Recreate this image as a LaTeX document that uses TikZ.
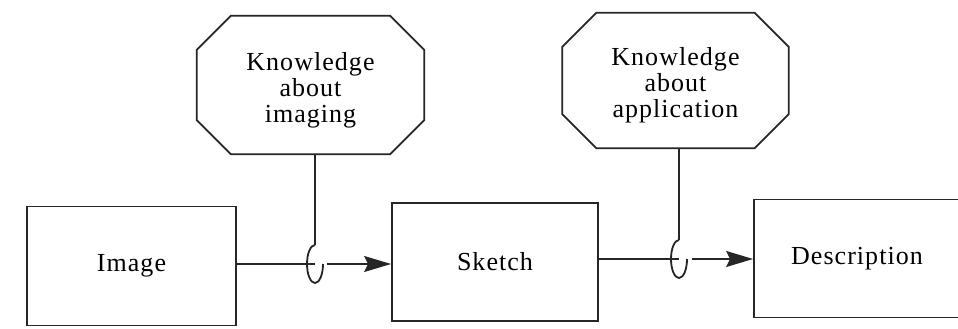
\documentclass[tikz,border=0pt]{standalone}
\usepackage{fontspec}
\setmainfont{Liberation Serif}[LetterSpace=4]
\usetikzlibrary{arrows.meta}
\newcommand{\octaround}[2]{%
  \draw[ln] ([xshift=#2]#1.north west) -- ([xshift=-#2]#1.north east)
    -- ([yshift=-#2]#1.north east) -- ([yshift=#2]#1.south east)
    -- ([xshift=-#2]#1.south east) -- ([xshift=#2]#1.south west)
    -- ([yshift=#2]#1.south west) -- ([yshift=-#2]#1.north west) -- cycle;}
\begin{document}
\begin{tikzpicture}[x=1pt,y=-1pt,
  ln/.style={line width=1.8pt, draw=black!85, line join=miter},
  boxnode/.style={ln, rectangle, inner sep=0pt, font=\fontsize{26}{26}\selectfont},
  know/.style={rectangle, draw=none, inner sep=0pt, align=center, font=\fontsize{26}{26}\selectfont},
  arr/.style={ln, -{Stealth[length=27pt, width=16pt, inset=4pt]}}]
\useasboundingbox (0,0) rectangle (958,329);
\fill[white] (0,0) rectangle (958,329);

\node[boxnode, minimum width=209pt, minimum height=119pt] (img) at (131.5,266) {Image};
\node[boxnode, minimum width=206pt, minimum height=118pt] (sk) at (495,262) {Sketch};
\node[boxnode, minimum width=206pt, minimum height=118pt] (desc) at (857,258.5) {Description};

\node[know, minimum width=227pt, minimum height=138pt] (k1) at (310.5,85) {\rule{0pt}{28pt}Knowledge\\about\\imaging};
\node[know, minimum width=226pt, minimum height=135pt] (k2) at (675.5,80.5) {\rule{0pt}{28pt}Knowledge\\about\\application};
\octaround{k1}{34pt}
\octaround{k2}{34pt}

% loop symbols
\coordinate (l1) at (315,264);
\coordinate (l1top) at (315,245);
\coordinate (l1out) at (327,264);
\coordinate (l2) at (679,259);
\coordinate (l2top) at (679,240);
\coordinate (l2out) at (692,259);

\draw[ln] (k1.south -| l1top) -- (l1top);
\draw[ln] (l1top) arc[start angle=270, end angle=0, x radius=8, y radius=19];
\draw[ln] (img.east |- l1) -- (l1);
\draw[arr] (l1out) -- (sk.west |- l1out);

\draw[ln] (k2.south -| l2top) -- (l2top);
\draw[ln] (l2top) arc[start angle=270, end angle=0, x radius=8, y radius=19];
\draw[ln] (sk.east |- l2) -- (l2);
\draw[arr] (l2out) -- (desc.west |- l2out);
\end{tikzpicture}
\end{document}
